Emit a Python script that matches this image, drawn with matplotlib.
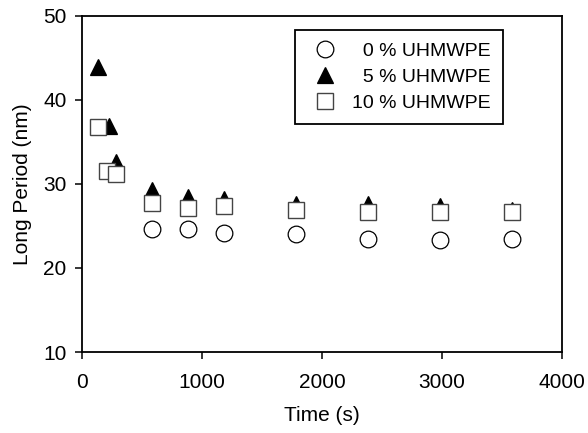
#!/usr/bin/env python

import matplotlib
matplotlib.use("Agg")
import matplotlib.pyplot as plt

plt.rcParams['font.family'] = ['Liberation Sans', 'DejaVu Sans']

# Long period vs annealing time for the three blends
time_0 = [583, 883, 1183, 1783, 2381, 2983, 3581]
lp_0 = [24.7, 24.7, 24.2, 24.0, 23.5, 23.3, 23.5]

time_5 = [131, 228, 283, 583, 883, 1183, 1783, 2381, 2983, 3581]
lp_5 = [43.9, 36.9, 32.6, 29.3, 28.4, 28.2, 27.6, 27.6, 27.4, 26.9]

time_10 = [131, 206, 281, 583, 883, 1183, 1783, 2381, 2983, 3581]
lp_10 = [36.8, 31.5, 31.2, 27.7, 27.1, 27.4, 26.9, 26.7, 26.7, 26.7]

labels = ['\u20070 % UHMWPE', '\u20075 % UHMWPE', '10 % UHMWPE']


def main():
    fig = plt.figure(figsize=(5.88, 4.33), dpi=100, facecolor='w')
    ax = fig.add_axes([82 / 588, 1 - 352 / 433, 480 / 588, 336 / 433])

    ax.plot(time_0, lp_0, 'o', ms=12, mfc='white', mec='black', mew=0.9,
            label=labels[0], zorder=3)
    ax.plot(time_5, lp_5, '^', ms=12, mfc='black', mec='black', mew=0.9,
            label=labels[1], zorder=4)
    ax.plot(time_10, lp_10, 's', ms=11, mfc='white', mec='#444444', mew=1.0,
            label=labels[2], zorder=5)

    ax.set_xlim(0, 4000)
    ax.set_ylim(10, 50)
    ax.set_xticks([0, 1000, 2000, 3000, 4000])
    ax.set_yticks([10, 20, 30, 40, 50])
    ax.tick_params(direction='out', length=5, width=1.1, labelsize=15)
    ax.tick_params(axis='x', pad=10)
    ax.tick_params(axis='y', pad=6)
    for sp in ax.spines.values():
        sp.set_linewidth(1.3)

    ax.set_xlabel("Time (s)", fontsize=15, labelpad=10)
    ax.set_ylabel("Long Period (nm)", fontsize=15, labelpad=8)

    leg = ax.legend(loc='upper right', bbox_to_anchor=(0.877, 0.958),
                    borderaxespad=0, fontsize=14, frameon=True,
                    fancybox=False, edgecolor='black', framealpha=1,
                    handletextpad=0.5, labelspacing=0.43, borderpad=0.63,
                    handlelength=1.8)
    leg.get_frame().set_linewidth(1.3)

    fig.savefig('out.png', dpi=100)


if __name__ == '__main__':
    main()
